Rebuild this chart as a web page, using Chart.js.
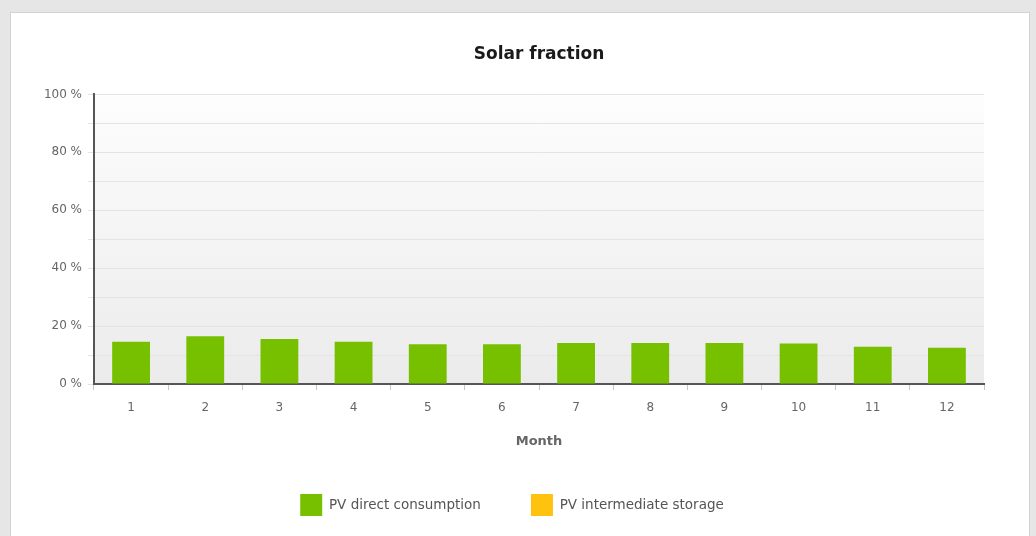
<!DOCTYPE html>
<html>
<head>
<meta charset="utf-8">
<script src="https://cdn.jsdelivr.net/npm/chart.js@4"></script>
<style>
    html, body { margin: 0; padding: 0; }
    body { width: 1036px; height: 536px; background: #e6e6e6; position: relative; overflow: hidden; }
    #panel { position: absolute; left: 10px; top: 12px; width: 1018px; height: 530px; background: #fff; border: 1px solid #d2d2d2; }
    #solarChart { position: absolute; left: 0; top: 0; }
</style>
</head>
<body>
<div id="panel"></div>
<canvas id="solarChart" width="1036" height="536"></canvas>
<script>
const months = ['1', '2', '3', '4', '5', '6', '7', '8', '9', '10', '11', '12']
const directConsumption = [14.6, 16.5, 15.5, 14.6, 13.7, 13.7, 14.2, 14.2, 14.2, 14.0, 12.9, 12.5]
const intermediateStorage = [0, 0, 0, 0, 0, 0, 0, 0, 0, 0, 0, 0]
const yTicks = [0, 20, 40, 60, 80, 100]

// light gradient behind the plot, like the original
const plotBackground = {
    id: 'plotBackground',
    beforeDraw(chart) {
        const a = chart.chartArea
        const ctx = chart.ctx
        const g = ctx.createLinearGradient(0, a.top, 0, a.bottom)
        g.addColorStop(0, '#fdfdfd')
        g.addColorStop(1, '#ebebeb')
        ctx.save()
        ctx.fillStyle = g
        ctx.fillRect(a.left, a.top, a.right - a.left, a.bottom - a.top)
        ctx.restore()
    }
}

new Chart(
    document.getElementById('solarChart'),
    {
        type: 'bar',
        data: {
            labels: months,
            datasets: [{
                label: 'PV direct consumption',
                data: directConsumption,
                backgroundColor: '#77c000',
                barPercentage: 0.51,
                categoryPercentage: 1
            }, {
                label: 'PV intermediate storage',
                data: intermediateStorage,
                backgroundColor: '#ffc20e',
                barPercentage: 0.51,
                categoryPercentage: 1
            }]
        },
        plugins: [plotBackground],
        options: {
            responsive: false,
            animation: false,
            events: [],
            layout: { padding: { left: 40, right: 52, top: 0, bottom: 10 } },
            plugins: {
                title: {
                    display: true,
                    fullSize: false,//center over the plot area
                    text: 'Solar fraction',
                    color: '#1a1a1a',
                    font: { family: 'DejaVu Sans', size: 17, weight: 'bold' },
                    padding: { top: 44, bottom: 30 }
                },
                legend: {
                    position: 'bottom',
                    maxHeight: 82,
                    labels: {
                        boxWidth: 22,
                        boxHeight: 22,
                        padding: 50,
                        color: '#555',
                        font: { family: 'DejaVu Sans', size: 13.5 }
                    }
                },
                tooltip: { enabled: false }
            },
            scales: {
                x: {
                    stacked: true,
                    border: { color: '#555', width: 2 },
                    grid: { offset: true, drawOnChartArea: false, tickLength: 6, color: '#c8c8c8' },
                    ticks: { color: '#666', padding: 11, maxRotation: 0, autoSkip: false, font: { family: 'DejaVu Sans', size: 12 } },
                    title: {
                        display: true,
                        text: 'Month',
                        color: '#666',
                        font: { family: 'DejaVu Sans', size: 13, weight: 'bold' },
                        padding: { top: 0, bottom: -5 }
                    },
                    afterFit(scale) { scale.height = 60 }
                },
                y: {
                    stacked: true,
                    min: 0,
                    max: 100,
                    border: { color: '#555', width: 2 },
                    grid: { color: '#e4e4e4', tickLength: 6 },
                    ticks: {
                        stepSize: 10,
                        color: '#666',
                        padding: 6,
                        autoSkip: false,
                        font: { family: 'DejaVu Sans', size: 12 },
                        callback: function (value) {
                            return yTicks.includes(value) ? value + ' %' : ''
                        }
                    },
                    afterFit(scale) { scale.width = 54 }
                }
            }
        }
    })
</script>
</body>
</html>
